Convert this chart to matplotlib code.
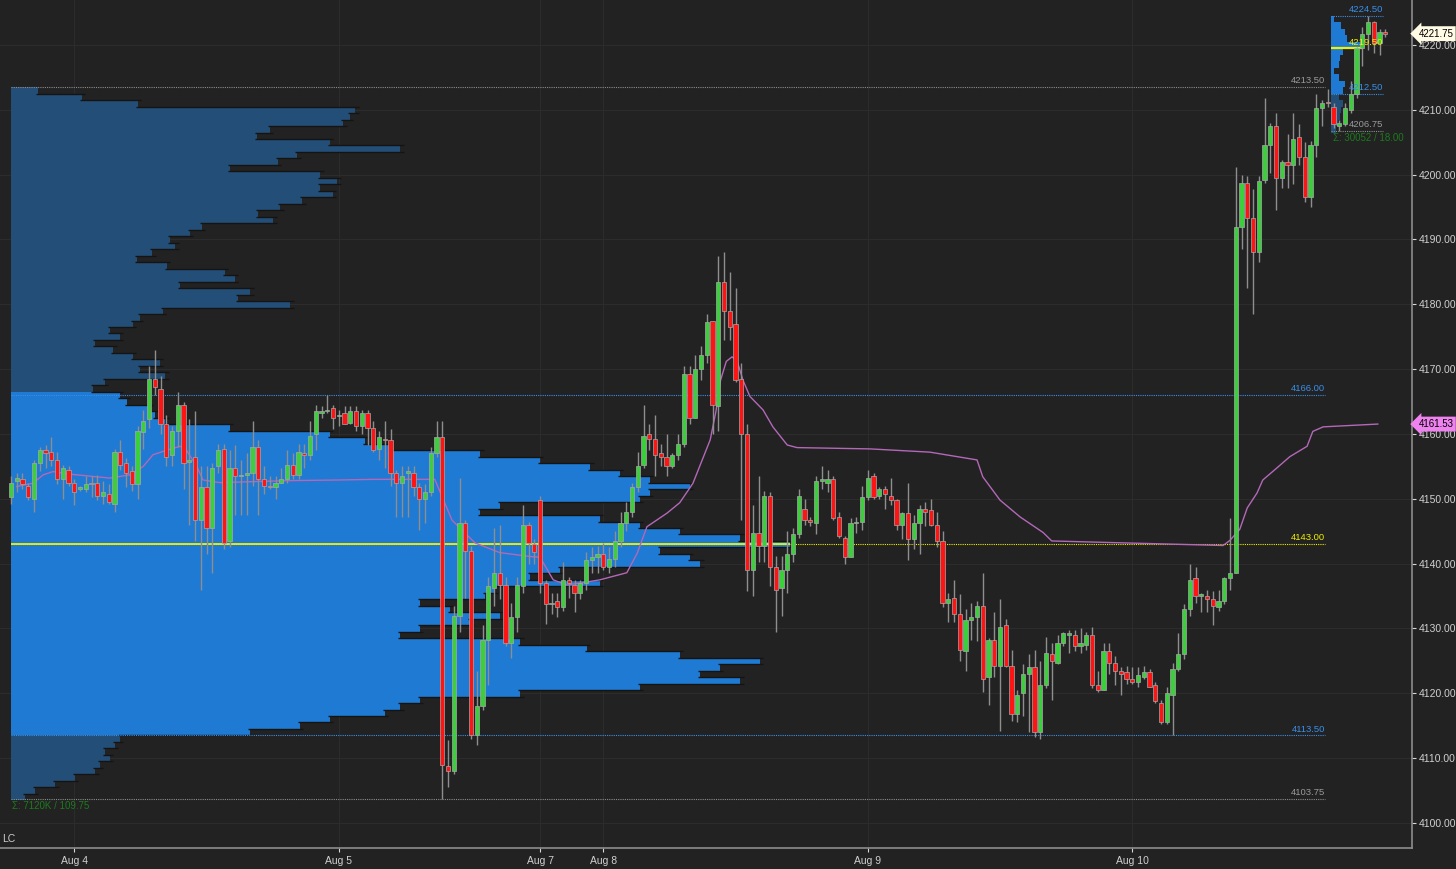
import numpy as np
import matplotlib
matplotlib.use("Agg")
import matplotlib.pyplot as plt
from matplotlib.transforms import blended_transform_factory

plt.rcParams['font.family'] = ['Liberation Sans', 'DejaVu Sans']

#%% 30 min bars (open, high, low, close)
aug4_bars = [
    (4150.25, 4153.5, 4149.25, 4152.5), (4152.75, 4154.0, 4151.0, 4153.25), (4153.0, 4154.0, 4151.5, 4152.25),
    (4152.0, 4152.5, 4149.75, 4150.25), (4150.0, 4156.0, 4148.0, 4155.5), (4155.5, 4158.0, 4154.25, 4157.5),
    (4157.5, 4158.25, 4154.75, 4157.0), (4157.25, 4159.5, 4155.0, 4156.0), (4156.0, 4157.25, 4152.25, 4153.0),
    (4153.0, 4155.25, 4150.0, 4154.75), (4154.5, 4155.0, 4152.0, 4152.5), (4152.5, 4153.0, 4149.0, 4151.0),
    (4151.5, 4152.0, 4151.25, 4151.75), (4151.5, 4153.5, 4151.0, 4152.25), (4152.5, 4153.5, 4150.25, 4152.25),
    (4152.5, 4153.75, 4149.75, 4150.5), (4150.5, 4152.75, 4149.25, 4151.0), (4150.75, 4152.25, 4149.25, 4149.5),
    (4149.25, 4157.75, 4148.0, 4157.25), (4157.25, 4159.0, 4154.5, 4155.25), (4155.5, 4156.25, 4151.75, 4154.0),
    (4154.25, 4155.0, 4151.25, 4152.25), (4152.25, 4161.25, 4150.0, 4160.5), (4160.25, 4163.75, 4157.75, 4162.0),
    (4162.25, 4170.5, 4161.0, 4168.5), (4168.5, 4173.0, 4166.0, 4167.25), (4167.0, 4169.0, 4160.0, 4161.5),
    (4161.5, 4163.0, 4155.0, 4156.5), (4156.75, 4161.25, 4155.0, 4160.5), (4160.5, 4166.5, 4158.0, 4164.5),
    (4164.5, 4165.0, 4151.5, 4155.5), (4155.75, 4162.25, 4146.0, 4156.0), (4156.5, 4163.5, 4143.5, 4146.75),
    (4146.75, 4155.0, 4136.0, 4151.75), (4151.75, 4155.0, 4141.5, 4145.5), (4145.5, 4155.5, 4138.5, 4154.75),
    (4155.0, 4158.5, 4154.0, 4157.5), (4157.75, 4158.5, 4142.25, 4143.25), (4143.5, 4157.5, 4142.5, 4154.75),
    (4154.75, 4158.25, 4147.5, 4153.5), (4153.5, 4156.0, 4147.5, 4153.75), (4153.75, 4157.0, 4147.5, 4154.0),
    (4154.0, 4162.0, 4152.0, 4158.0), (4158.0, 4159.0, 4147.5, 4153.0), (4153.0, 4155.0, 4150.75, 4152.0),
    (4152.0, 4153.5, 4151.5, 4151.75), (4151.75, 4153.5, 4150.0, 4152.5), (4152.5, 4154.75, 4152.5, 4153.0),
    (4153.0, 4157.5, 4152.5, 4155.25), (4155.25, 4157.0, 4153.0, 4153.75), (4153.75, 4158.5, 4153.0, 4157.25),
    (4157.0, 4158.5, 4154.75, 4156.75), (4156.75, 4162.0, 4156.0, 4159.75), (4160.0, 4164.5, 4157.5, 4163.5),
    (4163.25, 4164.25, 4162.5, 4163.5), (4163.5, 4166.0, 4163.25, 4163.75), (4164.0, 4164.5, 4160.75, 4162.5),
]
aug5_bars = [
    (4162.75, 4163.75, 4161.25, 4163.0), (4163.25, 4164.25, 4161.5, 4161.5), (4161.75, 4164.25, 4161.5, 4163.5),
    (4163.5, 4164.25, 4160.5, 4161.25), (4161.25, 4163.75, 4160.0, 4163.25), (4163.25, 4163.75, 4158.25, 4161.0),
    (4161.0, 4162.0, 4157.25, 4157.5), (4157.75, 4160.5, 4156.0, 4159.5), (4159.25, 4162.0, 4154.75, 4159.0),
    (4159.0, 4160.75, 4152.0, 4154.0), (4154.0, 4154.5, 4147.25, 4152.5), (4152.5, 4155.0, 4147.25, 4153.5),
    (4154.0, 4155.0, 4147.25, 4154.25), (4154.0, 4155.0, 4150.5, 4151.75), (4151.75, 4152.5, 4145.25, 4150.0),
    (4150.0, 4152.25, 4146.25, 4151.0), (4151.0, 4158.0, 4150.5, 4157.0), (4157.0, 4162.0, 4156.5, 4159.5),
    (4159.5, 4162.0, 4103.75, 4109.0), (4108.75, 4112.75, 4105.5, 4108.0), (4108.0, 4133.5, 4107.5, 4132.0),
    (4132.0, 4153.25, 4129.5, 4146.25), (4146.25, 4146.75, 4134.75, 4142.0), (4142.0, 4142.75, 4113.0, 4113.5),
    (4113.5, 4123.5, 4112.0, 4118.0), (4118.0, 4130.5, 4117.5, 4128.25), (4128.25, 4138.0, 4121.25, 4136.5),
    (4136.25, 4145.5, 4133.5, 4138.5), (4138.5, 4146.0, 4134.5, 4136.75), (4136.75, 4138.0, 4127.25, 4127.75),
    (4127.75, 4134.0, 4125.5, 4131.75), (4131.75, 4138.0, 4129.5, 4136.75), (4136.5, 4149.0, 4135.5, 4146.0),
    (4146.0, 4146.5, 4140.0, 4143.25), (4143.0, 4143.75, 4140.0, 4141.75),
]
aug7_bars = [
    (4149.75, 4150.5, 4135.5, 4137.0), (4137.0, 4137.5, 4130.75, 4133.75), (4133.75, 4135.5, 4132.25, 4134.0),
    (4134.25, 4135.5, 4131.75, 4133.25), (4133.25, 4140.25, 4132.75, 4137.5), (4137.5, 4138.0, 4134.75, 4137.0),
    (4136.75, 4137.5, 4132.5, 4135.5), (4135.5, 4137.5, 4134.5, 4137.0), (4137.0, 4141.75, 4136.0, 4140.5),
    (4140.5, 4142.5, 4138.5, 4141.0), (4141.0, 4142.75, 4138.5, 4141.5),
]
aug8_bars = [
    (4141.5, 4143.25, 4139.0, 4139.5), (4139.5, 4142.5, 4138.5, 4140.75), (4140.75, 4145.0, 4139.5, 4143.5),
    (4143.5, 4148.0, 4142.5, 4146.25), (4146.25, 4149.5, 4145.0, 4148.0), (4148.0, 4152.5, 4147.25, 4151.75),
    (4151.75, 4157.25, 4151.0, 4155.0), (4155.25, 4164.5, 4154.75, 4159.75), (4160.0, 4161.5, 4157.5, 4159.25),
    (4159.25, 4163.0, 4153.5, 4156.75), (4157.0, 4158.5, 4155.0, 4156.5), (4156.5, 4160.0, 4153.5, 4155.0),
    (4155.0, 4157.0, 4154.75, 4156.75), (4156.75, 4160.0, 4156.0, 4158.5), (4158.5, 4170.5, 4158.0, 4169.25),
    (4169.25, 4170.5, 4161.5, 4162.5), (4162.5, 4172.25, 4162.5, 4170.0), (4170.0, 4173.5, 4168.25, 4172.25),
    (4172.25, 4178.5, 4171.0, 4177.25), (4177.5, 4177.5, 4160.0, 4164.5), (4164.25, 4187.5, 4160.5, 4183.5),
    (4183.5, 4188.0, 4174.5, 4179.0), (4179.0, 4185.0, 4174.5, 4176.5), (4177.0, 4182.5, 4168.0, 4168.25),
    (4168.5, 4171.0, 4146.75, 4160.0), (4160.0, 4161.5, 4135.75, 4139.0), (4139.0, 4149.0, 4135.0, 4144.75),
    (4144.75, 4153.5, 4140.25, 4142.75), (4142.75, 4151.25, 4140.25, 4150.5), (4150.5, 4151.0, 4136.5, 4139.5),
    (4139.5, 4141.25, 4129.5, 4136.0), (4136.25, 4141.25, 4132.0, 4139.0), (4139.0, 4145.0, 4135.5, 4141.5),
    (4141.5, 4145.5, 4140.25, 4144.5), (4144.5, 4151.5, 4144.0, 4150.5), (4148.5, 4150.0, 4146.0, 4146.75),
    (4146.75, 4147.25, 4145.75, 4146.5), (4146.25, 4153.5, 4144.5, 4152.75), (4152.75, 4155.0, 4151.5, 4153.0),
    (4152.5, 4154.5, 4151.0, 4153.0), (4153.0, 4153.5, 4146.75, 4147.0), (4147.25, 4148.0, 4144.0, 4144.25),
    (4144.0, 4144.25, 4140.0, 4141.0), (4141.0, 4147.0, 4141.0, 4146.25), (4146.25, 4147.25, 4144.75, 4146.5),
    (4146.5, 4152.0, 4145.25, 4150.25),
]
aug9_bars = [
    (4150.25, 4154.5, 4149.75, 4153.25), (4153.5, 4154.0, 4150.0, 4150.25), (4150.5, 4151.75, 4150.0, 4151.5),
    (4151.5, 4152.0, 4148.5, 4150.75), (4150.5, 4153.25, 4149.0, 4149.75), (4149.75, 4150.0, 4145.25, 4146.0),
    (4146.0, 4148.0, 4143.75, 4147.75), (4147.75, 4152.5, 4140.5, 4143.75), (4143.75, 4147.5, 4142.25, 4146.25),
    (4146.25, 4149.0, 4141.5, 4148.5), (4148.5, 4149.5, 4145.75, 4148.0), (4148.25, 4150.0, 4145.75, 4146.0),
    (4146.0, 4148.0, 4142.5, 4143.5), (4143.5, 4145.0, 4133.25, 4134.0), (4134.0, 4135.5, 4131.0, 4134.5),
    (4134.75, 4137.5, 4131.0, 4132.25), (4132.25, 4135.25, 4125.0, 4126.75), (4126.5, 4133.0, 4123.5, 4131.25),
    (4131.25, 4134.0, 4128.25, 4131.75), (4131.75, 4134.25, 4128.0, 4133.5), (4133.5, 4138.5, 4120.25, 4122.25),
    (4122.5, 4128.5, 4118.25, 4128.25), (4128.25, 4132.5, 4122.5, 4124.25), (4124.25, 4134.5, 4114.25, 4130.25),
    (4130.5, 4131.5, 4124.0, 4124.25), (4124.25, 4126.75, 4115.75, 4116.75), (4116.75, 4120.5, 4115.5, 4119.75),
    (4120.0, 4124.5, 4116.5, 4123.0), (4123.0, 4126.0, 4114.0, 4124.0), (4124.0, 4126.75, 4113.25, 4114.0),
    (4114.0, 4125.0, 4113.0, 4121.25), (4121.25, 4128.75, 4120.75, 4126.25), (4126.0, 4127.75, 4119.0, 4125.0),
    (4124.75, 4129.0, 4124.5, 4127.75), (4127.75, 4129.5, 4127.25, 4129.25), (4129.0, 4129.75, 4126.25, 4129.25),
    (4129.0, 4129.75, 4126.5, 4127.25), (4127.25, 4130.0, 4126.25, 4127.75), (4127.5, 4129.5, 4126.75, 4129.0),
    (4129.0, 4130.25, 4120.75, 4121.25), (4121.25, 4123.5, 4120.25, 4120.5), (4120.5, 4127.75, 4120.5, 4126.5),
    (4126.5, 4127.75, 4123.0, 4124.75), (4124.75, 4125.75, 4121.25, 4123.5), (4123.5, 4124.0, 4119.75, 4123.0),
    (4123.25, 4124.25, 4121.5, 4122.25),
]
aug10_bars = [
    (4122.25, 4124.0, 4121.5, 4121.75), (4121.75, 4124.0, 4121.0, 4122.75), (4122.5, 4124.25, 4122.25, 4123.25),
    (4123.25, 4123.75, 4121.0, 4121.0), (4121.25, 4121.75, 4118.5, 4118.75), (4118.5, 4119.0, 4115.25, 4115.5),
    (4115.5, 4121.0, 4115.25, 4120.0), (4119.75, 4124.75, 4113.5, 4123.75), (4123.75, 4129.25, 4123.5, 4126.0),
    (4126.0, 4133.75, 4125.25, 4133.0), (4133.0, 4140.0, 4132.0, 4137.5), (4137.75, 4139.5, 4134.0, 4135.0),
    (4135.0, 4135.5, 4132.5, 4135.25), (4135.0, 4136.0, 4132.5, 4134.5), (4134.5, 4135.75, 4130.5, 4133.5),
    (4133.25, 4136.0, 4132.75, 4134.25), (4134.25, 4138.0, 4133.75, 4137.75), (4137.75, 4147.0, 4136.0, 4138.5),
    (4138.5, 4201.25, 4138.5, 4192.0), (4192.0, 4200.0, 4188.5, 4198.75), (4198.75, 4199.75, 4182.5, 4193.25),
    (4193.25, 4197.75, 4178.5, 4188.0), (4188.0, 4199.75, 4186.5, 4199.0), (4199.25, 4211.75, 4198.75, 4204.5),
    (4204.5, 4208.0, 4200.25, 4207.5), (4207.5, 4209.5, 4194.5, 4199.5), (4199.5, 4202.25, 4198.0, 4202.0),
    (4202.0, 4206.25, 4198.0, 4201.5), (4201.5, 4209.5, 4198.5, 4205.5), (4205.75, 4207.75, 4201.5, 4202.75),
    (4202.75, 4205.0, 4195.75, 4196.5), (4196.5, 4205.25, 4195.0, 4204.5), (4204.5, 4212.5, 4202.75, 4210.25),
    (4210.25, 4211.5, 4207.5, 4211.0), (4211.25, 4213.25, 4210.5, 4211.0), (4210.5, 4211.0, 4207.25, 4207.75),
    (4207.5, 4208.5, 4206.75, 4208.0), (4207.75, 4211.0, 4207.5, 4210.25), (4210.0, 4214.5, 4209.5, 4212.5),
    (4212.5, 4219.75, 4211.75, 4219.5), (4219.5, 4222.75, 4216.75, 4221.75), (4221.75, 4224.5, 4219.25, 4223.5),
    (4223.5, 4223.75, 4218.75, 4220.25), (4220.25, 4222.5, 4218.5, 4222.0), (4222.0, 4222.5, 4221.25, 4221.75),
]

date_labels = ['Aug 4', 'Aug 5', 'Aug 7', 'Aug 8', 'Aug 9', 'Aug 10']
date_bar = [11, 57, 92, 103, 149, 195]

#%% VWAP read at (bar, price) points
vwap_bar = [1, 3.8, 5.6, 7.3, 10.3, 13.7, 17.2, 20.7, 23.0, 24.7, 27.1, 29.4, 30.3, 32.3, 33.4, 36.3, 48,
            56.7, 63, 73.7, 76.7, 80.7, 85, 90.3, 92, 94.3, 96.7, 102.4, 107.1, 108.9, 110.6, 114.1, 116.3,
            118.6, 121.6, 122.6, 123.4, 124.4, 125.4, 126.3, 127.3, 128.5, 130.8, 132.5, 135, 136.7, 149.4,
            159.8, 168, 169, 172, 175.5, 179.5, 181, 189.4, 210.8, 212, 213.7, 215, 216.7, 217.7, 220.2,
            222.4, 225.4, 226.4, 228.2, 237.7]
vwap_val = [4151.9, 4152.4, 4153.7, 4154.2, 4153.8, 4153.5, 4153.2, 4153.7, 4155.0, 4156.8, 4157.5, 4158.1,
            4157.8, 4155.0, 4152.9, 4152.5, 4152.8, 4152.9, 4153.0, 4153.0, 4146.7, 4143.2, 4141.7, 4141.1,
            4141.0, 4137.5, 4136.7, 4137.5, 4138.6, 4141.6, 4145.7, 4147.8, 4149.4, 4152.4, 4159.1, 4163.5,
            4168.3, 4171.2, 4171.9, 4171.2, 4168.3, 4165.8, 4163.7, 4161.1, 4158.3, 4157.9, 4157.7, 4157.2,
            4156.0, 4153.4, 4149.8, 4147.2, 4144.8, 4143.5, 4143.3, 4142.8, 4143.6, 4145.3, 4148.6, 4150.9,
            4152.9, 4154.8, 4156.5, 4158.1, 4160.4, 4161.1, 4161.53]

#%% composite volume profile, 1 pt rows from 4213 down to 4104 (K contracts)
profile_prices = list(range(4213, 4103, -1))
profile_vol_k = [5.9, 15.4, 27.6, 74.8, 73.7, 72.2, 56.3, 53.5, 69.3, 84.6,
                 62.2, 58.0, 47.6, 67.2, 70.9, 67.2, 70.0, 63.3, 58.5, 53.7,
                 57.0, 41.5, 38.9, 34.6, 35.7, 30.7, 27.4, 33.9, 46.5, 48.7,
                 36.7, 52.0, 49.3, 60.7, 33.0, 28.0, 26.5, 21.5, 23.7, 18.3,
                 22.2, 26.5, 32.4, 28.0, 33.5, 20.4, 17.8, 23.7, 25.2, 30.2,
                 31.3, 33.5, 47.6, 69.3, 77.0, 82.4, 102.0, 115.0, 125.9, 132.4,
                 138.9, 147.6, 138.9, 136.7, 106.3, 102.0, 128.0, 136.7, 145.4, 158.5,
                 169.3, 141.1, 147.6, 149.8, 119.3, 112.8, 128.0, 105.2, 103.0, 88.9,
                 95.4, 106.3, 99.8, 88.9, 84.6, 110.7, 125.2, 145.4, 162.8, 154.1,
                 149.8, 158.5, 136.7, 110.7, 88.9, 84.6, 81.3, 69.3, 62.8, 52.0,
                 23.7, 22.6, 20.4, 21.5, 19.3, 18.3, 13.9, 9.6, 5.2, 3.0]
prof_high, prof_low = 4213.50, 4103.75
va_high, va_low, poc = 4166.00, 4113.50, 4143.00

# evening session profile (contracts), 4224 down to 4207
small_prices = list(range(4224, 4206, -1))
small_vol = [400, 1330, 1870, 2130, 4000, 1600, 1200, 1070, 400, 1070,
             1870, 1600, 1070, 1600, 1330, 1200, 930, 670]
small_high, small_low = 4224.50, 4206.75
small_va_low, small_poc = 4212.50, 4219.50

last_price = 4221.75
vwap_last = 4161.53

#%% styling
BG = '#222222'
GREEN = '#3ccf3c'
RED = '#ff1414'
VA_BLUE = '#1f7ad3'
OUT_BLUE = '#234e77'
LVL_BLUE = '#3a8fe8'
YELLOW = '#f0f000'
GREY = '#8c8c8c'
K_TO_BARS = 0.8          # profile width per K contracts, in bar units
C_TO_BARS = 0.0013       # small profile width per contract

bars = aug4_bars + aug5_bars + aug7_bars + aug8_bars + aug9_bars + aug10_bars
o = np.array([b[0] for b in bars])
h = np.array([b[1] for b in bars])
l = np.array([b[2] for b in bars])
c = np.array([b[3] for b in bars])
x = np.arange(len(bars))

fig = plt.figure(figsize=(14.56, 8.69), dpi=100, facecolor=BG)
ax = fig.add_axes([0, 21 / 869, 1412 / 1456, 848 / 869])
ax.set_facecolor(BG)
ax.set_xlim(-1.913, 243.65)
ax.set_ylim(4096.14, 4226.94)

# grid
for p in range(4100, 4230, 10):
    ax.axhline(p, color='#2c2c2c', lw=0.8, zorder=0)
for d in date_bar:
    ax.axvline(d, color='#2c2c2c', lw=0.8, zorder=0)

#%% composite profile
pw = np.array(profile_vol_k) * K_TO_BARS
pp = np.array(profile_prices)
cols = [VA_BLUE if va_low <= p <= va_high else OUT_BLUE for p in pp]
ax.barh(pp, pw, height=1.0, left=0, color=cols, linewidth=0, zorder=1)
for k in range(len(pp) - 1):
    a, b = sorted([pw[k], pw[k + 1]])
    ax.hlines(pp[k] - 0.5, a - 0.3, b + 0.6, color='#141414', lw=1.0, zorder=1.5)

#%% session profile (top right)
s0 = 229.6
sw = np.array(small_vol) * C_TO_BARS
sp = np.array(small_prices)
scol = [VA_BLUE if p >= small_va_low else OUT_BLUE for p in sp]
ax.barh(sp, sw, height=1.0, left=s0, color=scol, linewidth=0, zorder=1)

#%% levels
lvl_end = 228.5
def level(p, col, label, lcol, x0=0, x1=lvl_end, size=6.8):
    ax.hlines(p, x0, x1, color=col, lw=0.8, linestyles=(0, (1, 1)), zorder=2)
    ax.text(x1, p + 0.3, label, color=lcol, fontsize=size, ha='right', va='bottom', zorder=6)

level(prof_high, GREY, '%.2f' % prof_high, '#9a9a9a')
level(va_high, LVL_BLUE, '%.2f' % va_high, LVL_BLUE)
level(poc, YELLOW, '%.2f' % poc, YELLOW)
ax.hlines(poc, 0, pw[profile_prices.index(int(poc))], color=YELLOW, lw=1.3, zorder=2)
level(va_low, LVL_BLUE, '%.2f' % va_low, LVL_BLUE)
level(prof_low, GREY, '%.2f' % prof_low, '#9a9a9a')
ax.text(0.2, prof_low - 0.4, 'Σ: 7120K / 109.75', color='#1d7a1d', fontsize=7, ha='left', va='top')

s1 = 238.6
level(small_high, LVL_BLUE, '%.2f' % small_high, LVL_BLUE, s0, s1)
level(small_va_low, LVL_BLUE, '%.2f' % small_va_low, LVL_BLUE, s0, s1)
level(small_low, GREY, '%.2f' % small_low, '#9a9a9a', s0, s1)
ax.hlines(small_poc, s0, s0 + 5.6, color=YELLOW, lw=1.6, zorder=2)
ax.text(s1, small_poc + 0.2, '%.2f' % small_poc, color=YELLOW, fontsize=6.8, ha='right', va='bottom', zorder=6)
ax.text(s0 + 0.3, small_low - 0.4, 'Σ: 30052 / 18.00', color='#1d7a1d', fontsize=7, ha='left', va='top')

#%% vwap
ax.plot(vwap_bar, vwap_val, color='#b368b8', lw=1.0, zorder=3)

#%% candles
up = c >= o
ax.vlines(x, l, h, color='#8e8e8e', lw=1.0, zorder=4)
body_lo = np.minimum(o, c)
body_h = np.maximum(np.abs(c - o), 0.15)
ax.bar(x, body_h, bottom=body_lo, width=0.72,
       color=np.where(up, GREEN, RED), edgecolor='#a8a8a8', linewidth=0.5, zorder=5)

#%% axes
for s in ['top', 'left']:
    ax.spines[s].set_visible(False)
ax.spines['right'].set_color('#8c8c8c')
ax.spines['bottom'].set_color('#8c8c8c')
ax.spines['right'].set_linewidth(1.2)
ax.spines['bottom'].set_linewidth(1.2)
ax.yaxis.tick_right()
ax.set_yticks(range(4100, 4230, 10))
ax.set_yticklabels(['%.2f' % p for p in range(4100, 4230, 10)])
ax.set_xticks(date_bar)
ax.set_xticklabels(date_labels)
ax.tick_params(axis='y', colors='#d8d8d8', labelsize=7.5, length=3, pad=2, direction='out')
ax.tick_params(axis='x', colors='#d8d8d8', labelsize=7.5, length=3, pad=3, direction='out')
for t in ax.get_xticklabels() + ax.get_yticklabels():
    t.set_color('#d0d0d0')

# price tags on the axis
tr = blended_transform_factory(ax.transAxes, ax.transData)
ax.text(1.0045, last_price, '%.2f' % last_price, transform=tr, fontsize=7, color='black',
        ha='left', va='center', clip_on=False, zorder=7,
        bbox=dict(boxstyle='larrow,pad=0.25', fc='#fffbe4', ec='none'))
ax.text(1.0045, vwap_last, '%.2f' % vwap_last, transform=tr, fontsize=7, color='black',
        ha='left', va='center', clip_on=False, zorder=7,
        bbox=dict(boxstyle='larrow,pad=0.25', fc='#ee82ee', ec='none'))

fig.text(2 / 1456, 1 - 839 / 869, 'LC', color='#cccccc', fontsize=7.5, ha='left', va='center')

fig.savefig('out.png', dpi=100, facecolor=BG)
